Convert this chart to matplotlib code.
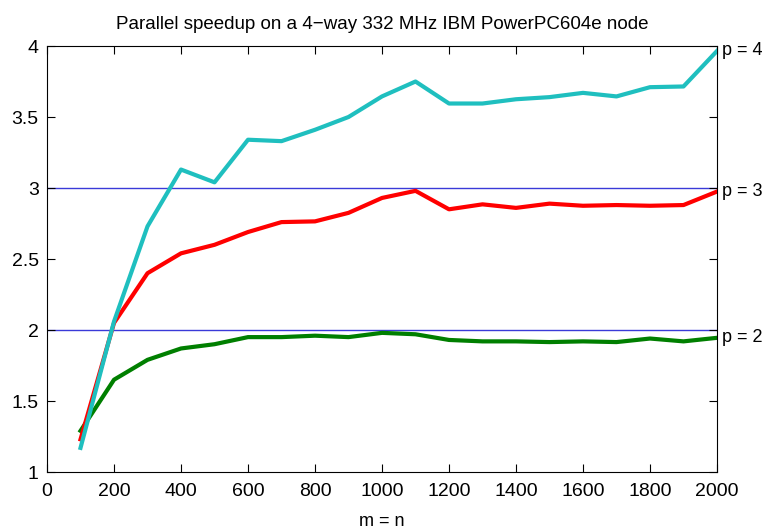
import numpy as np
import matplotlib
matplotlib.use("Agg")
import matplotlib.pyplot as plt

# problem size m = n
sizes = [100, 200, 300, 400, 500, 600, 700, 800, 900, 1000,
         1100, 1200, 1300, 1400, 1500, 1600, 1700, 1800, 1900, 2000]

# speedup
speedup_p2 = [1.29, 1.65, 1.79, 1.87, 1.90, 1.95, 1.95, 1.96, 1.95, 1.98,
              1.97, 1.93, 1.92, 1.92, 1.915, 1.92, 1.915, 1.94, 1.92, 1.945]
speedup_p3 = [1.23, 2.05, 2.40, 2.54, 2.60, 2.69, 2.76, 2.765, 2.825, 2.93,
              2.98, 2.85, 2.885, 2.86, 2.89, 2.875, 2.88, 2.875, 2.88, 2.975]
speedup_p4 = [1.17, 2.06, 2.73, 3.13, 3.04, 3.34, 3.33, 3.41, 3.50, 3.645,
              3.75, 3.595, 3.595, 3.625, 3.64, 3.67, 3.645, 3.71, 3.715, 3.965]

ideal_levels = [2, 3]
xticks = [0, 200, 400, 600, 800, 1000, 1200, 1400, 1600, 1800, 2000]
yticks = [1, 1.5, 2, 2.5, 3, 3.5, 4]

plt.rcParams['font.family'] = ['Liberation Sans', 'DejaVu Sans']

fig = plt.figure(figsize=(7.67, 5.30), dpi=100)
ax = fig.add_axes([0.0613, 0.1094, 0.8735, 0.8038])

for lev in ideal_levels:
    ax.axhline(lev, color='#3a3ad8', linewidth=1.0, zorder=1)

ax.plot(sizes, speedup_p2, color='#007f00', linewidth=3.0, zorder=2)
ax.plot(sizes, speedup_p3, color='#ff0000', linewidth=3.0, zorder=3)
ax.plot(sizes, speedup_p4, color='#1fbfbf', linewidth=3.0, zorder=4)

for lab, vals in [("p = 4", speedup_p4), ("p = 3", speedup_p3), ("p = 2", speedup_p2)]:
    ax.text(2015, vals[-1], lab, fontsize=13, va='center', ha='left',
            clip_on=False)

ax.set_xlim(0, 2000)
ax.set_ylim(1, 4)
ax.set_xticks(xticks)
ax.set_yticks(yticks)
ax.set_yticklabels(["1", "1.5", "2", "2.5", "3", "3.5", "4"])
ax.tick_params(direction='in', length=6, width=0.8, top=True, right=True,
               labelsize=14, pad=6)
ax.tick_params(axis='x', pad=8)
for sp in ax.spines.values():
    sp.set_linewidth(0.8)

ax.set_title("Parallel speedup on a 4\u2212way 332 MHz IBM PowerPC604e node",
             fontsize=13.5, pad=12)
ax.set_xlabel("m = n", fontsize=13, labelpad=9)

fig.savefig("out.png", dpi=100)
